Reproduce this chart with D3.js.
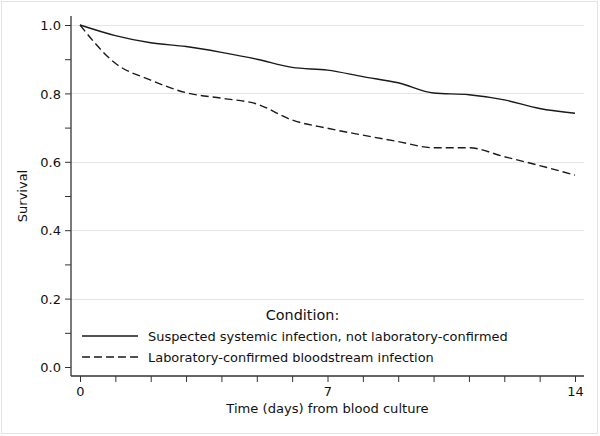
<!DOCTYPE html>
<html>
<head>
<meta charset="utf-8">
<script src="https://cdn.jsdelivr.net/npm/d3@7"></script>
<style>
  html, body { margin: 0; padding: 0; background: #fff; }
  svg { display: block; }
  text { font-family: "DejaVu Sans", "Liberation Sans", Arial, sans-serif; fill: #111; }
</style>
</head>
<body>
<svg id="chart" width="600" height="436"></svg>
<script>
// ---- data ----
const days = [0, 1, 2, 3, 4, 5, 6, 7, 8, 9, 10, 11, 12, 13, 14];
const suspected = [1.0, 0.969, 0.948, 0.937, 0.920, 0.900, 0.876, 0.868, 0.849, 0.831, 0.801, 0.796, 0.781, 0.756, 0.742];
const confirmed = [1.0, 0.888, 0.839, 0.802, 0.786, 0.769, 0.722, 0.698, 0.678, 0.659, 0.641, 0.641, 0.615, 0.589, 0.561];
const seriesNames = ["Suspected systemic infection, not laboratory-confirmed", "Laboratory-confirmed bloodstream infection"];
const yMajorTicks = [0, 0.2, 0.4, 0.6, 0.8, 1.0];
const yMinorTicks = [0.1, 0.3, 0.5, 0.7, 0.9];
const xLabelTicks = [0, 7, 14];
const legendTitle = "Condition:";
const xTitle = "Time (days) from blood culture";
const yTitle = "Survival";

// ---- layout ----
const svg = d3.select("#chart");
const axisX = 71, axisY = 376, plotRight = 584, plotTop = 16;
const x = d3.scaleLinear().domain([0, 14]).range([80, 575]);
const y = d3.scaleLinear().domain([0, 1]).range([367, 25]);

// outer frame
svg.append("rect").attr("x", 1.5).attr("y", 1.5).attr("width", 596).attr("height", 432)
  .attr("fill", "none").attr("stroke", "#e4e4e4").attr("stroke-width", 1);

// gridlines
svg.append("g").selectAll("line").data(yMajorTicks.filter(d => d > 0)).join("line")
  .attr("x1", axisX).attr("x2", plotRight)
  .attr("y1", d => Math.round(y(d)) + 0.5).attr("y2", d => Math.round(y(d)) + 0.5)
  .attr("stroke", "#e6e6e6").attr("stroke-width", 1.2);

// y axis
const yAxis = d3.axisLeft(y).tickValues(yMajorTicks).tickFormat(d3.format(".1f")).tickSize(6).tickPadding(4);
const gy = svg.append("g").attr("transform", `translate(${axisX},0)`).call(yAxis);
gy.select(".domain").remove();
gy.selectAll("line").attr("stroke", "#333");
gy.selectAll("text").style("font-size", "13px").attr("fill", "#111").attr("dy", "0.36em");
const gyMinor = svg.append("g").attr("transform", `translate(${axisX},0)`)
  .call(d3.axisLeft(y).tickValues(yMinorTicks).tickFormat("").tickSize(6));
gyMinor.select(".domain").remove();
gyMinor.selectAll("line").attr("stroke", "#333");
svg.append("line").attr("x1", axisX).attr("x2", axisX).attr("y1", plotTop).attr("y2", axisY)
  .attr("stroke", "#333").attr("stroke-width", 1.3);

// x axis
const gx = svg.append("g").attr("transform", `translate(0,${axisY})`)
  .call(d3.axisBottom(x).tickValues(days).tickFormat(d => xLabelTicks.includes(d) ? d : "").tickSize(6).tickPadding(5));
gx.select(".domain").remove();
gx.selectAll("line").attr("stroke", "#333");
gx.selectAll("text").style("font-size", "13px").attr("fill", "#111");
svg.append("line").attr("x1", axisX).attr("x2", plotRight).attr("y1", axisY).attr("y2", axisY)
  .attr("stroke", "#333").attr("stroke-width", 1.3);

// titles
svg.append("text").attr("x", 327.5).attr("y", 413).attr("text-anchor", "middle")
  .style("font-size", "13.1px").text(xTitle);
svg.append("text").attr("transform", "translate(27,196) rotate(-90)").attr("text-anchor", "middle")
  .style("font-size", "13px").text(yTitle);

// lines
const line = d3.line().x((d, i) => x(days[i])).y(d => y(d)).curve(d3.curveMonotoneX);
svg.append("path").datum(suspected).attr("d", line)
  .attr("fill", "none").attr("stroke", "#1a1a1a").attr("stroke-width", 1.4);
svg.append("path").datum(confirmed).attr("d", line)
  .attr("fill", "none").attr("stroke", "#1a1a1a").attr("stroke-width", 1.4).attr("stroke-dasharray", "8,4");

// legend
svg.append("text").attr("x", 302.5).attr("y", 320).attr("text-anchor", "middle")
  .style("font-size", "14.4px").text(legendTitle);
const dashes = [null, "8,4"];
seriesNames.forEach((name, i) => {
  const ly = 336 + i * 21;
  svg.append("line").attr("x1", 82).attr("x2", 138).attr("y1", ly).attr("y2", ly)
    .attr("stroke", "#1a1a1a").attr("stroke-width", 1.4).attr("stroke-dasharray", dashes[i]);
  svg.append("text").attr("x", 148).attr("y", ly + 5).style("font-size", "12.95px").text(name);
});
</script>
</body>
</html>
